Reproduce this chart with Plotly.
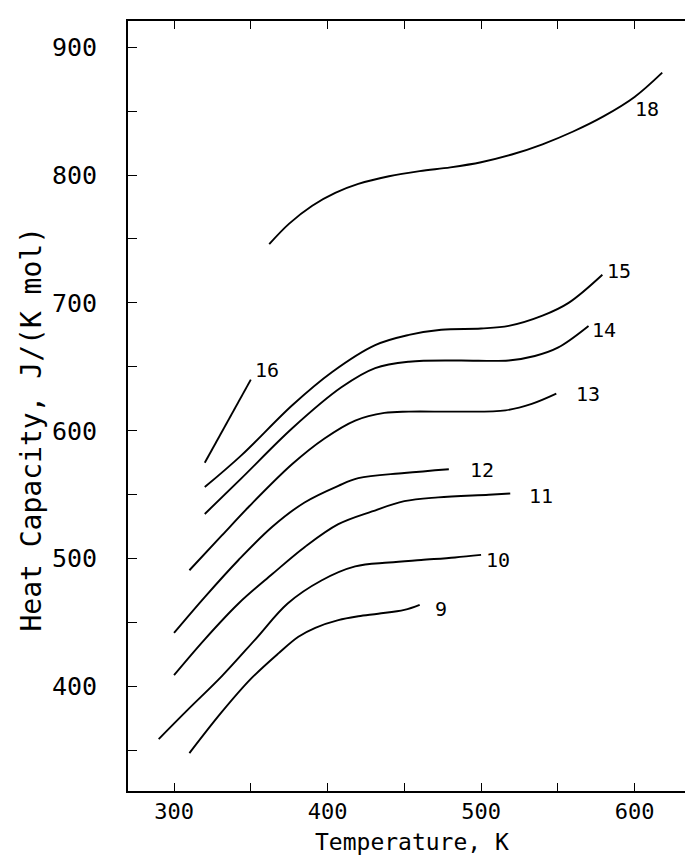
import plotly.graph_objects as go

# Temperature (K) and heat capacity J/(K mol) for each labelled curve
t9 = [310, 331, 350, 368, 381, 392, 407, 420, 433, 450, 460]
cp9 = [348, 380, 406, 426, 439, 446, 452, 455, 457, 460, 464]

t10 = [290, 309, 331, 353, 374, 396, 418, 440, 461, 483, 500]
cp10 = [359, 382, 408, 437, 465, 483, 494, 497, 499, 501, 503]

t11 = [300, 320, 342, 364, 385, 407, 429, 450, 472, 505, 519]
cp11 = [409, 437, 465, 488, 509, 527, 537, 545, 548, 550, 551]

t12 = [300, 320, 342, 364, 385, 407, 420, 450, 479]
cp12 = [442, 470, 499, 525, 544, 557, 563, 567, 570]

t13 = [310, 331, 349, 377, 398, 418, 437, 453, 485, 516, 533, 549]
cp13 = [491, 518, 541, 574, 594, 608, 614, 615, 615, 616, 621, 629]

t14 = [320, 344, 377, 409, 431, 453, 485, 518, 535, 550, 570]
cp14 = [535, 563, 602, 634, 649, 654, 655, 655, 658.5, 665, 682]

t15 = [320, 344, 377, 403, 431, 453, 474, 500, 518, 540, 557, 579]
cp15 = [556, 581, 620, 646, 667, 675, 679, 680, 682, 690, 700, 722]

t16 = [320, 350]
cp16 = [575, 640]

t18 = [362, 375, 390, 405, 420, 440, 460, 480, 500, 520, 540, 560, 580, 600, 618]
cp18 = [746, 762, 776, 786, 793, 799, 803, 806, 810, 816, 824, 834, 846, 861, 880]

curve_labels = ["9", "10", "11", "12", "13", "14", "15", "16", "18"]

x_ticks = [300, 350, 400, 450, 500, 550, 600]
x_ticktext = ["300", "", "400", "", "500", "", "600"]
y_ticks = [350, 400, 450, 500, 550, 600, 650, 700, 750, 800, 850, 900]
y_ticktext = ["", "400", "", "500", "", "600", "", "700", "", "800", "", "900"]

series = [(t9, cp9), (t10, cp10), (t11, cp11), (t12, cp12), (t13, cp13),
          (t14, cp14), (t15, cp15), (t16, cp16), (t18, cp18)]

# label pixel offsets from the curve end (style, not data)
label_shift = {
    "9": (21, -4), "10": (17, -5), "11": (31, -3), "12": (33, -1),
    "13": (32, 0), "14": (15, -4), "15": (17, 4), "16": (16, 10), "18": (-15, -36),
}

FONT = "DejaVu Sans Mono"

fig = go.Figure()
for name, (xs, ys) in zip(curve_labels, series):
    fig.add_trace(go.Scatter(
        x=xs, y=ys, mode="lines",
        line=dict(color="black", width=1.9, shape="spline", smoothing=1.0),
        showlegend=False, hoverinfo="skip"))
    dx, dy = label_shift[name]
    fig.add_annotation(x=xs[-1], y=ys[-1], xref="x", yref="y", text=name,
                       showarrow=False, xshift=dx, yshift=dy,
                       xanchor="center", yanchor="middle",
                       font=dict(family=FONT, size=20, color="black"))

fig.add_annotation(x=0.5, y=-0.066, xref="paper", yref="paper",
                   text="Temperature, K", showarrow=False,
                   xanchor="center", yanchor="middle",
                   font=dict(family=FONT, size=23, color="black"))
fig.add_annotation(x=-0.17, y=0.47, xref="paper", yref="paper",
                   text="Heat Capacity, J/(K mol)", showarrow=False,
                   textangle=-90, xanchor="center", yanchor="middle",
                   font=dict(family=FONT, size=28, color="black"))

fig.update_xaxes(range=[270, 640], tickmode="array", tickvals=x_ticks,
                 ticktext=x_ticktext, ticks="inside", ticklen=8, tickwidth=1.4,
                 tickcolor="black", showline=True, linecolor="black",
                 linewidth=1.8, mirror="ticks", showgrid=False, zeroline=False,
                 tickfont=dict(family=FONT, size=22, color="black"))
fig.update_yaxes(range=[318.4, 920.4], tickmode="array", tickvals=y_ticks,
                 ticktext=y_ticktext, ticks="inside", ticklen=9, tickwidth=1.4,
                 tickcolor="black", showline=True, linecolor="black",
                 linewidth=1.8, mirror=False, showgrid=False, zeroline=False,
                 ticklabelstandoff=24,
                 tickfont=dict(family=FONT, size=25, color="black"))

fig.update_layout(width=693, height=857,
                  margin=dict(l=120, r=5, t=13, b=74),
                  paper_bgcolor="white", plot_bgcolor="white")

fig.write_html("out.html")
